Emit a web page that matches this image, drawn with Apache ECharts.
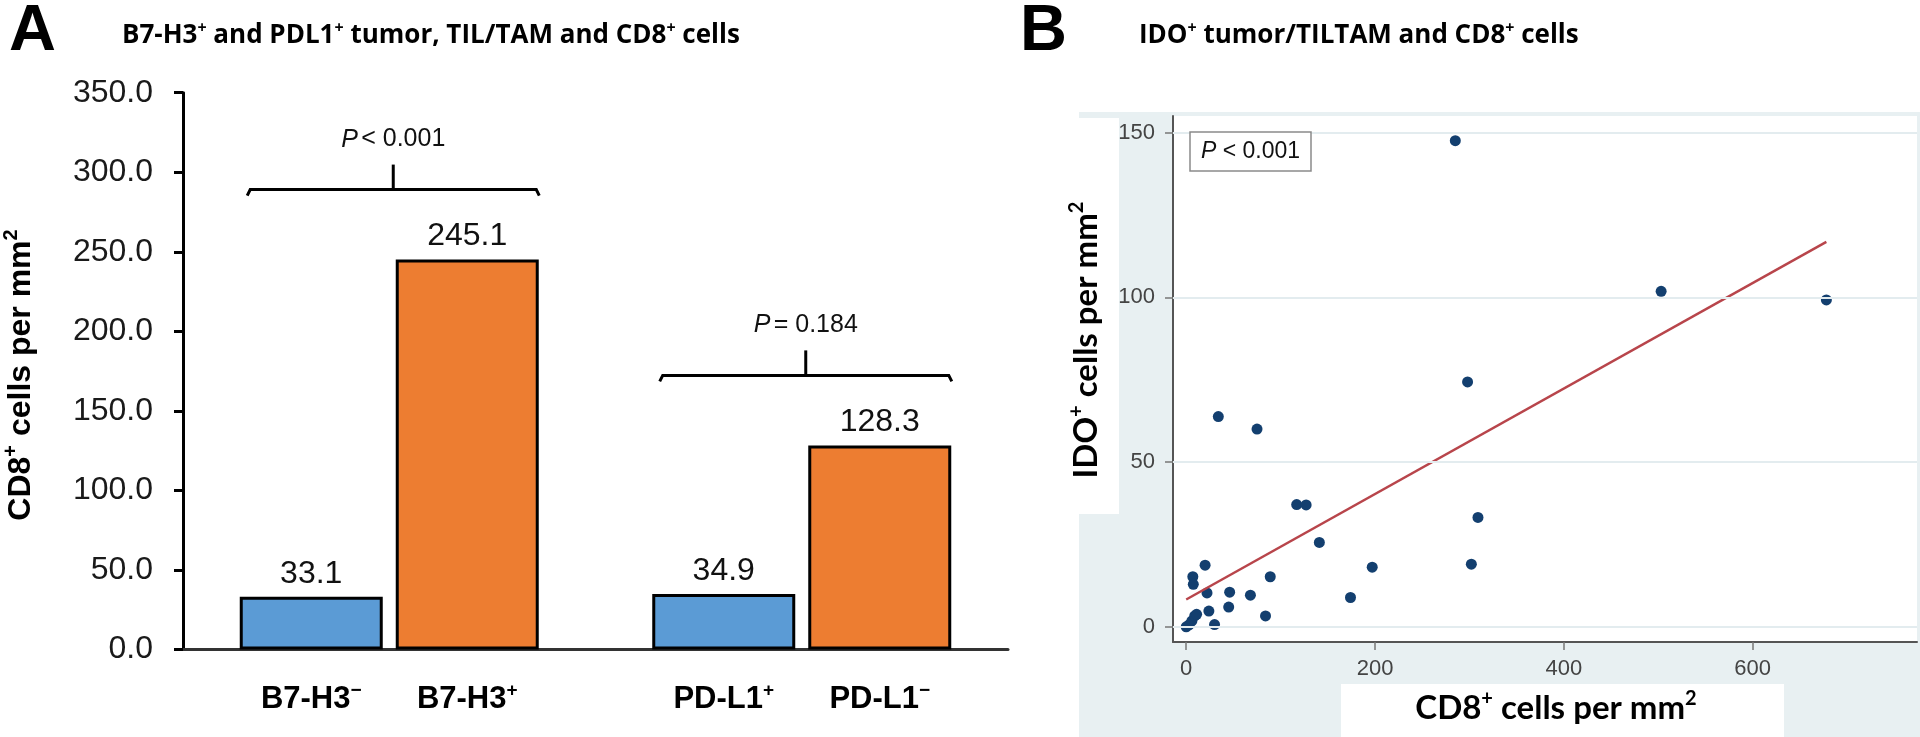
<!DOCTYPE html>
<html><head><meta charset="utf-8">
<script src="https://cdn.jsdelivr.net/npm/echarts@6.0.0/dist/echarts.min.js"></script>
<style>html,body{margin:0;padding:0;background:#fff}#c{width:1920px;height:737px}</style>
</head><body><div id="c"></div>
<script>
// ---------- Panel A data ----------
const catA = ['B7-H3', 'PD-L1'];
const blueValues = [33.1, 34.9];
const orangeValues = [245.1, 128.3];
const blueNames = ['B7-H3', 'PD-L1'];
const blueSups = ['\u2212', '+'];
const orangeNames = ['B7-H3', 'PD-L1'];
const orangeSups = ['+', '\u2212'];
const pTextA = ['< 0.001', '= 0.184'];
const yMaxA = 350;
const yStepA = 50;

// ---------- Panel B data ----------
const cd8 = [0, 3, 6, 9, 11, 7, 7.5, 20, 22, 24, 30, 34, 46, 45, 68, 75, 84, 89, 117, 127, 141, 174, 197, 285, 298, 302, 309, 503, 678];
const ido = [0, 0.6, 1.8, 3.3, 3.8, 15.2, 12.9, 18.7, 10.3, 4.8, 0.7, 63.8, 10.5, 6.0, 9.6, 60.0, 3.3, 15.2, 37.1, 37.0, 25.6, 8.9, 18.1, 147.5, 74.3, 19.0, 33.2, 101.8, 99.2];
const fitX = [0, 678];
const fitY = [8.3, 116.8];
const xTicksB = [0, 200, 400, 600];
const yTicksB = [0, 50, 100, 150];
const pTextB = '< 0.001';

// ---------- layout constants ----------
const BAR_W = 143, BAR_GAP = 13;
const ARIAL = 'Liberation Sans, Arial, sans-serif';
const NARROW = 'Liberation Sans Narrow, Liberation Sans, Arial, sans-serif';
const HUM = 'Lato, Open Sans, sans-serif';
const TITLEF = 'Open Sans, Lato, sans-serif';

const chart = echarts.init(document.getElementById('c'), null, {renderer: 'canvas', width: 1920, height: 737});

function supRich(size, family, weight) {
  return {
    m: {fontSize: size, fontFamily: family, fontWeight: weight, color: '#111', lineHeight: size * 1.2},
    s: {fontSize: Math.round(size * 0.62), fontFamily: family, fontWeight: weight, color: '#111', lineHeight: Math.round(size * 0.62), verticalAlign: 'top'}
  };
}

function renderBracket(params, api) {
  const i = api.value(0), y = api.value(1);
  const p = api.coord([i, y]);
  const band = Math.abs(api.coord([1, y])[0] - api.coord([0, y])[0]);
  const half = band * 0.354;
  const cx = p[0] + 4;
  return {
    type: 'group',
    children: [
      {type: 'polyline', shape: {points: [[cx - half, p[1] + 6], [cx - half + 3, p[1]], [cx + half - 3, p[1]], [cx + half, p[1] + 6]]},
        style: {stroke: '#000', lineWidth: 3, fill: null}},
      {type: 'line', shape: {x1: cx, y1: p[1], x2: cx, y2: p[1] - 25}, style: {stroke: '#000', lineWidth: 3}},
      {type: 'text', x: cx, y: p[1] - 50, style: {
        text: '{i|P} {n|' + pTextA[params.dataIndex] + '}',
        rich: {i: {fontStyle: 'italic', fontSize: 25, fontFamily: NARROW, fill: '#111'}, n: {fontSize: 25, fontFamily: NARROW, fill: '#111'}},
        align: 'center', verticalAlign: 'middle'}}
    ]
  };
}

function renderXLabel(params, api) {
  const i = api.value(0), side = api.value(1);
  const p = api.coord([i, 0]);
  const name = side < 0 ? blueNames[i] : orangeNames[i];
  const sup = side < 0 ? blueSups[i] : orangeSups[i];
  return {
    type: 'text', x: p[0] + side * (BAR_W + BAR_GAP) / 2, y: p[1] + 50,
    style: {text: '{m|' + name + '}{s|' + sup + '}', rich: supRich(31, NARROW, 'bold'), align: 'center', verticalAlign: 'middle'}
  };
}

const bracketData = catA.map((c, i) => [i, Math.max(blueValues[i], orangeValues[i]) + 44]);
const xLabelData = [];
catA.forEach((c, i) => { xLabelData.push([i, -1]); xLabelData.push([i, 1]); });

const valueLabel = {show: true, position: 'top', distance: 7, fontSize: 32, fontFamily: ARIAL, color: '#111',
  formatter: p => p.value.toFixed(1)};

const option = {
  animation: false,
  backgroundColor: '#fff',
  title: [{
    left: 1190, top: 132, text: '{i|P} ' + pTextB,
    padding: [8, 11], borderColor: '#8a8a8a', borderWidth: 1.5, backgroundColor: '#fff',
    textStyle: {fontSize: 23, fontWeight: 'normal', color: '#111', fontFamily: ARIAL,
      rich: {i: {fontStyle: 'italic', fontSize: 23, fontFamily: ARIAL, color: '#111'}}}
  }],
  grid: [
    {left: 183, right: 912, top: 92.7, bottom: 87.5},
    {left: 1173, right: 3, top: 116, bottom: 95, show: true, backgroundColor: '#fff', borderWidth: 0}
  ],
  xAxis: [
    {type: 'category', gridIndex: 0, data: catA,
      axisLine: {lineStyle: {color: '#333', width: 3}}, axisTick: {show: false}, axisLabel: {show: false}},
    {type: 'value', gridIndex: 1, min: -14, max: 774,
      axisLine: {show: true, onZero: false, lineStyle: {color: '#555', width: 2}},
      axisTick: {show: true, customValues: xTicksB, length: 8, lineStyle: {color: '#777', width: 1.5}},
      axisLabel: {customValues: xTicksB, fontSize: 22, color: '#444', fontFamily: ARIAL, margin: 16},
      splitLine: {show: false}}
  ],
  yAxis: [
    {type: 'value', gridIndex: 0, min: 0, max: yMaxA, interval: yStepA,
      axisLine: {show: true, lineStyle: {color: '#000', width: 3}},
      axisTick: {show: true, length: 9, lineStyle: {color: '#000', width: 3}},
      axisLabel: {fontSize: 32, color: '#1a1a1a', fontFamily: ARIAL, margin: 30, formatter: v => v.toFixed(1)},
      splitLine: {show: false}},
    {type: 'value', gridIndex: 1, min: -4.6, max: 155,
      axisLine: {show: true, onZero: false, lineStyle: {color: '#555', width: 2}},
      axisTick: {show: true, customValues: yTicksB, length: 8, lineStyle: {color: '#777', width: 1.5}},
      axisLabel: {customValues: yTicksB, fontSize: 22, color: '#444', fontFamily: ARIAL, margin: 18},
      splitLine: {show: false}}
  ],
  series: [
    {type: 'bar', xAxisIndex: 0, yAxisIndex: 0, data: blueValues, barWidth: BAR_W, barGap: (BAR_GAP / BAR_W * 100) + '%',
      itemStyle: {color: '#5b9bd5', borderColor: '#000', borderWidth: 3}, label: valueLabel},
    {type: 'bar', xAxisIndex: 0, yAxisIndex: 0, data: orangeValues, barWidth: BAR_W,
      itemStyle: {color: '#ed7d31', borderColor: '#000', borderWidth: 3}, label: valueLabel},
    {type: 'custom', xAxisIndex: 0, yAxisIndex: 0, data: bracketData, renderItem: renderBracket, z: 5},
    {type: 'custom', xAxisIndex: 0, yAxisIndex: 0, data: xLabelData, renderItem: renderXLabel, z: 5},
    {type: 'line', xAxisIndex: 1, yAxisIndex: 1, data: [], z: 1, silent: true,
      markLine: {silent: true, symbol: 'none', label: {show: false},
        lineStyle: {color: '#e3ecef', width: 2, type: 'solid'},
        data: yTicksB.map(v => ({yAxis: v}))}},
    {type: 'scatter', xAxisIndex: 1, yAxisIndex: 1, data: cd8.map((x, i) => [x, ido[i]]), symbolSize: 11,
      itemStyle: {color: '#133f6f', opacity: 1}, z: 3},
    {type: 'line', xAxisIndex: 1, yAxisIndex: 1, data: fitX.map((x, i) => [x, fitY[i]]), symbol: 'none',
      lineStyle: {color: '#b8454b', width: 2.5}, z: 4, silent: true}
  ],
  graphic: [
    // panel B background pieces
    {type: 'rect', z: -10, shape: {x: 1079, y: 112, width: 841, height: 625}, style: {fill: '#e8f0f2'}},
    {type: 'rect', z: -9, shape: {x: 1060, y: 118, width: 59, height: 396}, style: {fill: '#fff'}},
    {type: 'rect', z: -9, shape: {x: 1341, y: 684, width: 443, height: 53}, style: {fill: '#fff'}},
    // panel letters
    {type: 'text', x: 9, y: 32, style: {text: 'A', fontSize: 65, fontWeight: 'bold', fontFamily: ARIAL, fill: '#000', align: 'left', verticalAlign: 'middle'}},
    {type: 'text', x: 1020, y: 32, style: {text: 'B', fontSize: 65, fontWeight: 'bold', fontFamily: ARIAL, fill: '#000', align: 'left', verticalAlign: 'middle'}},
    // panel titles
    {type: 'text', x: 122, y: 36, style: {text: '{m|B7-H3}{s|+}{m| and PDL1}{s|+}{m| tumor, TIL/TAM and CD8}{s|+}{m| cells}',
      rich: supRich(26, TITLEF, 'bold'), align: 'left', verticalAlign: 'middle'}},
    {type: 'text', x: 1139, y: 36, style: {text: '{m|IDO}{s|+}{m| tumor/TILTAM and CD8}{s|+}{m| cells}',
      rich: supRich(26, TITLEF, 'bold'), align: 'left', verticalAlign: 'middle'}},
    // axis titles
    {type: 'text', x: 21, y: 375, rotation: Math.PI / 2, style: {text: '{m|CD8}{s|+}{m| cells per mm}{s|2}',
      rich: supRich(32, ARIAL, 'bold'), align: 'center', verticalAlign: 'middle'}},
    {type: 'text', x: 1086, y: 340, rotation: Math.PI / 2, style: {text: '{m|IDO}{s|+}{m| cells per mm}{s|2}',
      rich: supRich(33, HUM, 'bold'), align: 'center', verticalAlign: 'middle'}},
    {type: 'text', x: 1556, y: 708, style: {text: '{m|CD8}{s|+}{m| cells per mm}{s|2}',
      rich: supRich(33, HUM, 'bold'), align: 'center', verticalAlign: 'middle'}}
  ]
};
chart.setOption(option);
</script>
</body></html>
